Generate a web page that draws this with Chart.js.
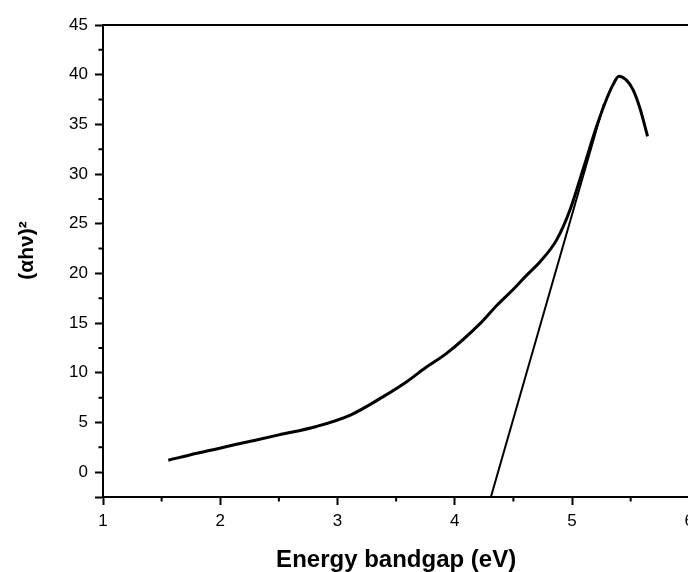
<!DOCTYPE html>
<html>
<head>
<meta charset="utf-8">
<script src="https://cdn.jsdelivr.net/npm/chart.js@4"></script>
<style>
  html, body { margin: 0; padding: 0; background: #fff; overflow: hidden; width: 688px; height: 572px; }
  canvas { display: block; }
</style>
</head>
<body>
<canvas id="chart" width="700" height="572" style="width:700px;height:572px"></canvas>
<script>
// absorption curve
const energy = [1.557, 1.8, 2.14, 2.5, 2.82, 3.11, 3.39, 3.59, 3.75, 3.93, 4.22, 4.36, 4.50, 4.62, 4.73, 4.87, 4.98, 5.10, 5.21, 5.30, 5.35, 5.40, 5.46, 5.52, 5.58, 5.644];
const alphaHv2 = [1.2, 1.9, 2.8, 3.75, 4.6, 5.75, 7.6, 9.1, 10.5, 11.95, 15.0, 16.8, 18.4, 19.9, 21.2, 23.4, 26.3, 30.7, 34.8, 37.7, 39.0, 39.85, 39.5, 38.5, 36.6, 33.8];

// linear fit (tangent) line
const fitX = [4.308, 5.27];
const fitY = [-2.5, 37.0];

const xTicks = [1, 2, 3, 4, 5, 6];
const yTicks = [0, 5, 10, 15, 20, 25, 30, 35, 40, 45];

const FONT = "'Liberation Sans', Arial, sans-serif";
const INK = "#000";

const zip = (xs, ys) => xs.map((x, i) => ({ x, y: ys[i] }));

// Chart.js has no minor ticks, so draw them halfway between the major ones
const minorTicks = {
  id: "minorTicks",
  afterDraw(chart) {
    const { ctx, chartArea, scales } = chart;
    ctx.save();
    ctx.strokeStyle = INK;
    ctx.lineWidth = 2;
    ctx.beginPath();
    for (let i = 0; i < xTicks.length - 1; i++) {
      const px = scales.x.getPixelForValue((xTicks[i] + xTicks[i + 1]) / 2);
      ctx.moveTo(px, chartArea.bottom);
      ctx.lineTo(px, chartArea.bottom + 4.5);
    }
    for (let i = 0; i < yTicks.length - 1; i++) {
      const py = scales.y.getPixelForValue((yTicks[i] + yTicks[i + 1]) / 2);
      ctx.moveTo(chartArea.left, py);
      ctx.lineTo(chartArea.left - 4.5, py);
    }
    ctx.stroke();
    ctx.restore();
  },
};

new Chart(document.getElementById("chart"), {
  type: "line",
  data: {
    datasets: [
      {
        data: zip(energy, alphaHv2),
        borderColor: INK,
        borderWidth: 3,
        pointRadius: 0,
        cubicInterpolationMode: "monotone",
        fill: false,
      },
      {
        data: zip(fitX, fitY),
        borderColor: INK,
        borderWidth: 2,
        pointRadius: 0,
        tension: 0,
        fill: false,
      },
    ],
  },
  options: {
    responsive: false,
    animation: false,
    events: [],
    layout: { padding: { left: 0, right: 10.5, top: 0, bottom: 0 } },
    plugins: { legend: { display: false }, tooltip: { enabled: false } },
    scales: {
      x: {
        type: "linear",
        position: "bottom",
        min: 1,
        max: 6,
        afterBuildTicks: (s) => { s.ticks = xTicks.map((v) => ({ value: v })); },
        afterFit: (s) => { s.height = 75; },
        ticks: { color: INK, font: { family: FONT, size: 17 }, padding: 6, maxRotation: 0 },
        grid: { drawOnChartArea: false, drawTicks: true, tickLength: 8, tickWidth: 2, tickColor: INK },
        border: { display: true, color: INK, width: 2 },
        title: {
          display: true,
          text: "Energy bandgap (eV)",
          color: INK,
          font: { family: FONT, size: 24, weight: "bold", lineHeight: 1 },
          padding: { top: 0, bottom: 0 },
        },
      },
      x2: {
        type: "linear",
        position: "top",
        min: 1,
        max: 6,
        afterFit: (s) => { s.height = 25; },
        ticks: { display: false },
        grid: { display: false, drawTicks: false },
        border: { display: true, color: INK, width: 2 },
      },
      y: {
        type: "linear",
        position: "left",
        min: -2.5,
        max: 45,
        afterBuildTicks: (s) => { s.ticks = [-2.5].concat(yTicks).map((v) => ({ value: v })); },
        afterFit: (s) => { s.width = 103; },
        ticks: {
          color: INK,
          font: { family: FONT, size: 17 },
          padding: 7,
          callback: (v) => (yTicks.includes(v) ? String(v) : ""),
        },
        grid: { drawOnChartArea: false, drawTicks: true, tickLength: 8, tickWidth: 2, tickColor: INK },
        border: { display: true, color: INK, width: 2 },
        title: {
          display: true,
          // leading en spaces nudge the label up a little, as in the original
          text: "\u2002\u2002(αhν)²",
          color: INK,
          font: { family: FONT, size: 21, weight: "bold", lineHeight: 1 },
          padding: { top: 17, bottom: 0 },
        },
      },
    },
  },
  plugins: [minorTicks],
});
</script>
</body>
</html>
